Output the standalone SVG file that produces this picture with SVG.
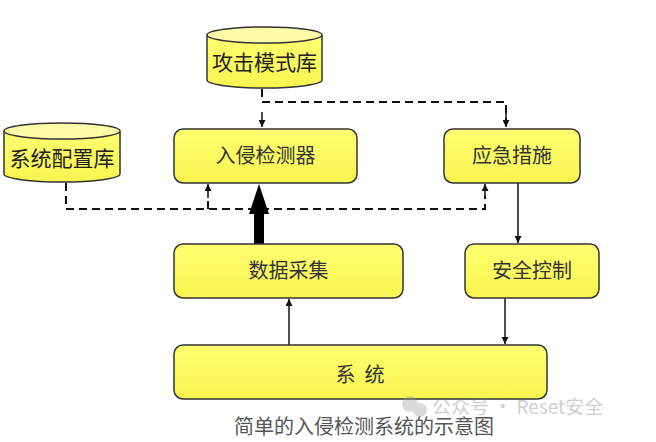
<svg xmlns="http://www.w3.org/2000/svg" width="656" height="442" viewBox="0 0 656 442">
<defs>
<marker id="ah" viewBox="0 0 10 10" refX="10" refY="5" markerWidth="7" markerHeight="7" markerUnits="userSpaceOnUse" orient="auto">
<path d="M0,0 L10,5 L0,10 z" fill="#111"/>
</marker>
<linearGradient id="yg" x1="0" y1="0" x2="0" y2="1">
<stop offset="0" stop-color="#FFFF70"/>
<stop offset="1" stop-color="#F8F450"/>
</linearGradient>
</defs>
<style>
.box{fill:url(#yg);stroke:#333;stroke-width:1.5}
.cap{fill:#FBFBA8;stroke:#333;stroke-width:1.5}
.t{font-family:"Noto Sans CJK SC","Noto Sans",sans-serif;font-size:20px;fill:#333;text-anchor:middle}
.db{font-family:"Noto Sans CJK SC","Noto Sans",sans-serif;font-size:21px;fill:#222;text-anchor:middle}
.dash{fill:none;stroke:#111;stroke-width:2;stroke-dasharray:8,5}
.sol{fill:none;stroke:#111;stroke-width:1.5}
</style>
<rect width="656" height="442" fill="#fff"/>
<g id="connectors">
<path class="dash" d="M262,89 V102 H506 V122"/>
<path d="M262,112 V127" class="sol" marker-end="url(#ah)"/>
<path d="M506,112 V127" class="sol" marker-end="url(#ah)"/>
<path class="dash" d="M66,183 V209 H485 V196"/>
<path class="dash" d="M208,209 V196"/>
<path d="M208,198 V184" class="sol" marker-end="url(#ah)"/>
<path d="M485,198 V184" class="sol" marker-end="url(#ah)"/>
<path d="M254,244 V214 H249 L259,184 L269,214 H264 V244 Z" fill="#000"/>
<path d="M289,345 V299" class="sol" marker-end="url(#ah)"/>
<path d="M518,183 V243" class="sol" marker-end="url(#ah)"/>
<path d="M505,298 V344" class="sol" marker-end="url(#ah)"/>
</g>
<g id="attack-db">
<path class="box" d="M207,35 V80 A57.5,8 0 0 0 322,80 V35"/>
<ellipse class="cap" cx="264.5" cy="35" rx="57.5" ry="8"/>
<text class="db" x="264.5" y="70">攻击模式库</text>
</g>
<g id="config-db">
<path class="box" d="M4,131 V174 A58,8 0 0 0 120,174 V131"/>
<ellipse class="cap" cx="62" cy="131" rx="58" ry="8"/>
<text class="db" x="62" y="166">系统配置库</text>
</g>
<g id="detector">
<rect class="box" x="174" y="129" width="183" height="54" rx="9"/>
<text class="t" x="265.5" y="163">入侵检测器</text>
</g>
<g id="emergency">
<rect class="box" x="444" y="129" width="136" height="54" rx="9"/>
<text class="t" x="512" y="163">应急措施</text>
</g>
<g id="collect">
<rect class="box" x="174" y="244" width="229" height="54" rx="9"/>
<text class="t" x="288.5" y="278">数据采集</text>
</g>
<g id="control">
<rect class="box" x="465" y="244" width="134" height="54" rx="9"/>
<text class="t" x="532" y="278">安全控制</text>
</g>
<g id="system">
<rect class="box" x="174" y="345" width="373" height="54" rx="9"/>
<text class="t" x="360" y="382" xml:space="preserve">系  统</text>
</g>
<text x="364" y="434" font-family="Noto Sans CJK SC,sans-serif" font-size="20" fill="#555" text-anchor="middle">简单的入侵检测系统的示意图</text>
<g id="watermark" opacity="0.35">
<circle cx="410" cy="404" r="8" fill="#999"/>
<circle cx="420" cy="410" r="7" fill="#999"/>
<text x="432" y="414" font-family="Noto Sans CJK SC,sans-serif" font-size="19" fill="#777">公众号 · Reset安全</text>
</g>
</svg>
